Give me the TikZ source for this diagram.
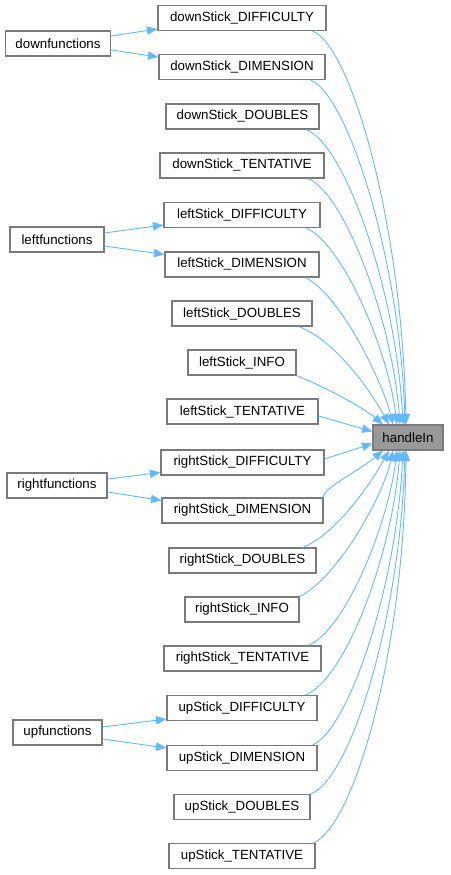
\documentclass[tikz,border=0pt]{standalone}
\usepackage{fontspec}
\setmainfont{Liberation Sans}
\usetikzlibrary{arrows.meta}
\definecolor{edgeblue}{HTML}{63B8FF}
\definecolor{boxgray}{HTML}{7A7A7A}
\definecolor{hfill}{HTML}{999999}
\begin{document}
\begin{tikzpicture}[x=1pt,y=-1pt,
  box/.style={draw=boxgray, line width=1.1pt, fill=white, minimum height=25pt, inner sep=0pt, font=\fontsize{13.3}{16}\selectfont, anchor=center},
  edge/.style={draw=edgeblue, line width=0.9pt, -{Triangle[length=10.5pt,width=8.5pt]}}]
\useasboundingbox (0,0) rectangle (450,875);
% function nodes
\node[box, minimum width=105pt] (dfun) at (58,43.5) {downfunctions};
\node[box, minimum width=94pt] (lfun) at (57,239.5) {leftfunctions};
\node[box, minimum width=100pt] (rfun) at (57,485.5) {rightfunctions};
\node[box, minimum width=89pt] (ufun) at (57.5,732.5) {upfunctions};
% stick nodes
\node[box, minimum width=168pt] (dDiff) at (242,18) {downStick\_DIFFICULTY};
\node[box, minimum width=166pt] (dDim) at (242,67) {downStick\_DIMENSION};
\node[box, minimum width=153pt] (dDoub) at (242.5,116.5) {downStick\_DOUBLES};
\node[box, minimum width=164pt] (dTent) at (242,165.5) {downStick\_TENTATIVE};
\node[box, minimum width=156pt] (lDiff) at (242,215) {leftStick\_DIFFICULTY};
\node[box, minimum width=154pt] (lDim) at (242,264.5) {leftStick\_DIMENSION};
\node[box, minimum width=140pt] (lDoub) at (242,313.5) {leftStick\_DOUBLES};
\node[box, minimum width=108pt] (lInfo) at (242,362.5) {leftStick\_INFO};
\node[box, minimum width=151pt] (lTent) at (242.5,411.5) {leftStick\_TENTATIVE};
\node[box, minimum width=163pt] (rDiff) at (242.5,462.5) {rightStick\_DIFFICULTY};
\node[box, minimum width=161pt] (rDim) at (242.5,510.5) {rightStick\_DIMENSION};
\node[box, minimum width=147pt] (rDoub) at (242.5,560.5) {rightStick\_DOUBLES};
\node[box, minimum width=114pt] (rInfo) at (242,609.5) {rightStick\_INFO};
\node[box, minimum width=157pt] (rTent) at (242.5,658.5) {rightStick\_TENTATIVE};
\node[box, minimum width=150pt] (uDiff) at (242,708) {upStick\_DIFFICULTY};
\node[box, minimum width=150pt] (uDim) at (242,758) {upStick\_DIMENSION};
\node[box, minimum width=136pt] (uDoub) at (242,807) {upStick\_DOUBLES};
\node[box, minimum width=146pt] (uTent) at (242,856) {upStick\_TENTATIVE};
% target
\node[box, fill=hfill, minimum width=70pt] (hIn) at (408,437.5) {handleIn};
% function edges
\draw[edge] ([yshift=7.5pt]dfun.east) -- ([yshift=-11pt]dDiff.west);
\draw[edge] ([yshift=-6.5pt]dfun.east) -- ([yshift=10pt]dDim.west);
\draw[edge] ([yshift=6.5pt]lfun.east) -- ([yshift=-10pt]lDiff.west);
\draw[edge] ([yshift=-6.5pt]lfun.east) -- ([yshift=10pt]lDim.west);
\draw[edge] ([yshift=6.5pt]rfun.east) -- ([yshift=-10pt]rDiff.west);
\draw[edge] ([yshift=-6.5pt]rfun.east) -- ([yshift=10pt]rDim.west);
\draw[edge] ([yshift=5.5pt]ufun.east) -- ([yshift=-11pt]uDiff.west);
\draw[edge] ([yshift=-6.5pt]ufun.east) -- ([yshift=10pt]uDim.west);
% edges to handleIn (from above)
\draw[edge] ([xshift=-14pt]dDiff.south east) .. controls (350,45) and (402,220) .. ([xshift=-2pt]hIn.north);
\draw[edge] ([xshift=-15pt]dDim.south east) .. controls (348,95) and (400,260) .. ([xshift=-3pt]hIn.north);
\draw[edge] ([xshift=-13pt]dDoub.south east) .. controls (345,145) and (396,290) .. ([xshift=-5pt]hIn.north);
\draw[edge] ([xshift=-16pt]dTent.south east) .. controls (345,195) and (392,320) .. ([xshift=-8pt]hIn.north);
\draw[edge] ([xshift=-14pt]lDiff.south east) .. controls (343,245) and (388,350) .. ([xshift=-11pt]hIn.north);
\draw[edge] ([xshift=-14pt]lDim.south east) .. controls (340,295) and (382,380) .. ([xshift=-15pt]hIn.north);
\draw[edge] ([xshift=-14pt]lDoub.south east) .. controls (335,340) and (370,390) .. ([xshift=-19pt]hIn.north);
\draw[edge] (lInfo.south east) .. controls (320,385) and (360,405) .. ([xshift=-25pt]hIn.north);
\draw[edge] ([yshift=-4.5pt]lTent.east) -- ([yshift=6pt]hIn.west);
% edges to handleIn (from below)
\draw[edge] ([yshift=3.5pt]rDiff.east) -- ([yshift=-6pt]hIn.west);
\draw[edge] (rDim.north east) .. controls (320,490) and (360,470) .. ([xshift=-25pt]hIn.south);
\draw[edge] ([xshift=-14pt]rDoub.north east) .. controls (335,535) and (370,485) .. ([xshift=-19pt]hIn.south);
\draw[edge] (rInfo.north east) .. controls (335,580) and (382,500) .. ([xshift=-15pt]hIn.south);
\draw[edge] ([xshift=-13pt]rTent.north east) .. controls (345,630) and (388,525) .. ([xshift=-11pt]hIn.south);
\draw[edge] ([xshift=-12pt]uDiff.north east) .. controls (345,680) and (392,555) .. ([xshift=-8pt]hIn.south);
\draw[edge] ([xshift=-5pt]uDim.north east) .. controls (348,730) and (396,590) .. ([xshift=-5pt]hIn.south);
\draw[edge] ([xshift=0pt]uDoub.north east) .. controls (350,780) and (400,620) .. ([xshift=-3pt]hIn.south);
\draw[edge] ([xshift=-2pt]uTent.north east) .. controls (355,825) and (404,650) .. ([xshift=-2pt]hIn.south);
\end{tikzpicture}
\end{document}
